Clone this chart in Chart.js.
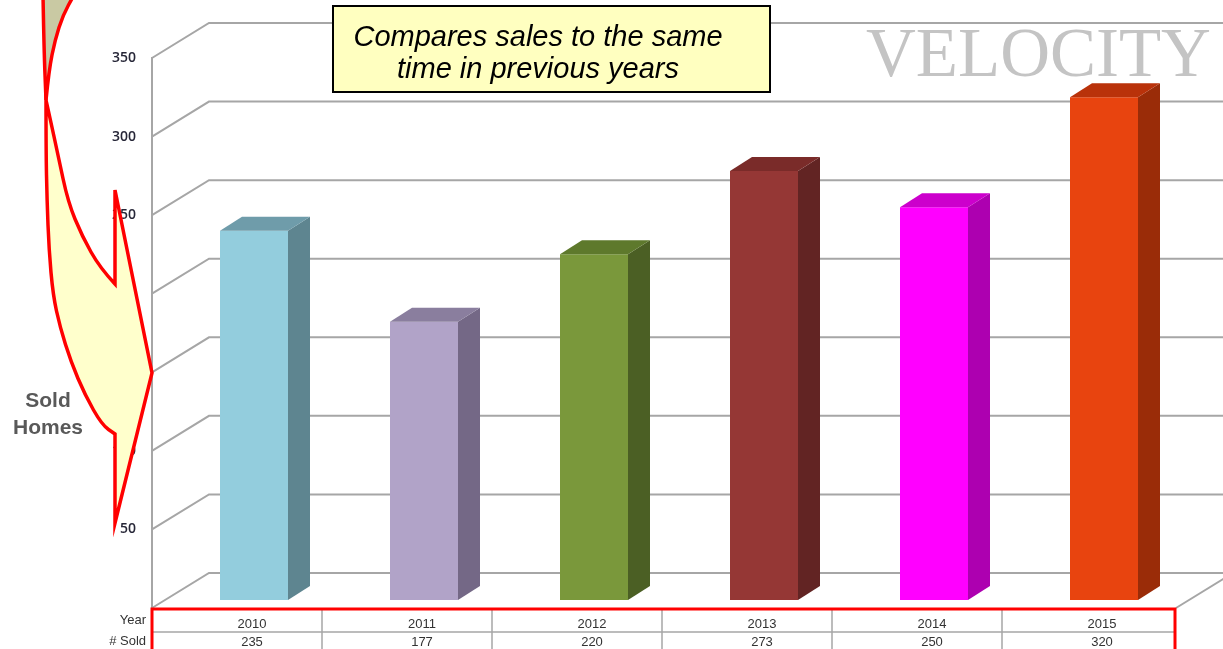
<!DOCTYPE html>
<html>
<head>
<meta charset="utf-8">
<script src="https://cdn.jsdelivr.net/npm/chart.js@4/dist/chart.umd.min.js"></script>
<style>
  html, body { margin: 0; padding: 0; background: #fff; }
  #wrap { width: 1223px; height: 649px; position: relative; overflow: hidden; }
</style>
</head>
<body>
<div id="wrap"><canvas id="velocityChart" width="1223" height="649"></canvas></div>
<script>
// data
const years = ['2010', '2011', '2012', '2013', '2014', '2015'];
const soldHomes = [235, 177, 220, 273, 250, 320];
const yTickValues = [0, 50, 100, 150, 200, 250, 300, 350];

const frontColors = ['#93cddd', '#b1a3c8', '#7a983b', '#953735', '#ff00ff', '#e8440f'];
const sideColors = ['#5e8590', '#746886', '#4b5f24', '#622423', '#ad00b0', '#9a2c08'];
const topColors = ['#6f9caa', '#8a7e9e', '#5e792c', '#7a2b29', '#cc00cc', '#b9320a'];

// depth of the floor / walls and of the bars themselves
const WALL_DX = 57, WALL_DY = -35;
const BAR_DX = 22, BAR_DY = -14;
const BAR_SHIFT_X = 17, BAR_SHIFT_Y = -8;

const wallPlugin = {
    id: 'wall3d',
    beforeDatasetsDraw(chart) {
        const ctx = chart.ctx;
        const y = chart.scales.y;
        const area = chart.chartArea;
        ctx.save();
        ctx.strokeStyle = '#a6a6a6';
        ctx.lineWidth = 2;
        y.ticks.forEach(t => {
            const py = y.getPixelForValue(t.value);
            ctx.beginPath();
            ctx.moveTo(area.left, py);
            ctx.lineTo(area.left + WALL_DX, py + WALL_DY);
            ctx.lineTo(area.right + WALL_DX, py + WALL_DY);
            ctx.stroke();
        });
        // floor right edge
        ctx.beginPath();
        ctx.moveTo(area.right + 4, area.bottom);
        ctx.lineTo(area.right + 4 + WALL_DX, area.bottom + WALL_DY);
        ctx.stroke();
        ctx.restore();

        // bars sit a little way into the depth
        ctx.save();
        ctx.translate(BAR_SHIFT_X, BAR_SHIFT_Y);
    },
    afterDatasetsDraw(chart) {
        const ctx = chart.ctx;
        const meta = chart.getDatasetMeta(0);
        meta.data.forEach((bar, i) => {
            const l = bar.x - bar.width / 2;
            const r = bar.x + bar.width / 2;
            const top = bar.y, base = bar.base;
            ctx.fillStyle = sideColors[i];
            ctx.beginPath();
            ctx.moveTo(r, top);
            ctx.lineTo(r + BAR_DX, top + BAR_DY);
            ctx.lineTo(r + BAR_DX, base + BAR_DY);
            ctx.lineTo(r, base);
            ctx.closePath();
            ctx.fill();
            ctx.fillStyle = topColors[i];
            ctx.beginPath();
            ctx.moveTo(l, top);
            ctx.lineTo(l + BAR_DX, top + BAR_DY);
            ctx.lineTo(r + BAR_DX, top + BAR_DY);
            ctx.lineTo(r, top);
            ctx.closePath();
            ctx.fill();
        });
        ctx.restore();
    }
};

function smoothThrough(ctx, pts) {
    for (let i = 1; i < pts.length - 1; i++) {
        const mx = (pts[i][0] + pts[i + 1][0]) / 2;
        const my = (pts[i][1] + pts[i + 1][1]) / 2;
        ctx.quadraticCurveTo(pts[i][0], pts[i][1], mx, my);
    }
    const last = pts[pts.length - 1];
    ctx.lineTo(last[0], last[1]);
}

const overlayPlugin = {
    id: 'overlay',
    afterDraw(chart) {
        const ctx = chart.ctx;
        const x = chart.scales.x;
        const area = chart.chartArea;

        // data table under the floor
        const tLeft = area.left, tRight = area.right + 3, tTop = 609;
        ctx.save();
        ctx.strokeStyle = '#a6a6a6';
        ctx.lineWidth = 1.5;
        ctx.beginPath();
        ctx.moveTo(tLeft, 632);
        ctx.lineTo(tRight, 632);
        for (let i = 0; i < years.length - 1; i++) {
            const bx = (x.getPixelForValue(i) + x.getPixelForValue(i + 1)) / 2;
            ctx.moveTo(bx, tTop);
            ctx.lineTo(bx, 660);
        }
        ctx.stroke();
        ctx.strokeStyle = '#ff0000';
        ctx.lineWidth = 3;
        ctx.strokeRect(tLeft, tTop, tRight - tLeft, 60);

        ctx.fillStyle = '#333333';
        ctx.font = "13px 'Liberation Sans'";
        ctx.textBaseline = 'middle';
        ctx.textAlign = 'right';
        ctx.fillText('Year', 146, 620);
        ctx.fillText('# Sold', 146, 641);
        ctx.textAlign = 'center';
        years.forEach((yr, i) => {
            const cx = x.getPixelForValue(i) + 15;
            ctx.fillText(yr, cx, 624);
            ctx.fillText(String(soldHomes[i]), cx, 642);
        });
        ctx.restore();

        // note box
        ctx.save();
        ctx.fillStyle = '#ffffc0';
        ctx.fillRect(333, 6, 437, 86);
        ctx.strokeStyle = '#000';
        ctx.lineWidth = 2;
        ctx.strokeRect(333, 6, 437, 86);
        ctx.fillStyle = '#000';
        ctx.font = "italic 29px 'Liberation Sans'";
        ctx.textAlign = 'center';
        ctx.textBaseline = 'middle';
        ctx.fillText('Compares sales to the same', 538, 38);
        ctx.fillText('time in previous years', 538, 70);

        ctx.fillStyle = '#c4c4c4';
        ctx.font = "69px 'Liberation Serif'";
        ctx.textAlign = 'left';
        ctx.textBaseline = 'alphabetic';
        ctx.fillText('VELOCITY', 866, 76);

        ctx.fillStyle = '#595959';
        ctx.font = "bold 21px 'Liberation Sans'";
        ctx.textAlign = 'center';
        ctx.textBaseline = 'middle';
        ctx.fillText('Sold', 48, 401);
        ctx.fillText('Homes', 48, 428);
        ctx.restore();

        // curved arrow callout
        ctx.save();
        ctx.lineWidth = 3.5;
        ctx.strokeStyle = '#ff0000';
        ctx.lineJoin = 'miter';
        ctx.fillStyle = '#c9c9a3';
        ctx.beginPath();
        ctx.moveTo(43, -5);
        smoothThrough(ctx, [[43, -5], [44, 50], [46, 100]]);
        smoothThrough(ctx, [[46, 100], [49, 70], [55, 40], [63, 15], [74, -5]]);
        ctx.closePath();
        ctx.fill();
        ctx.stroke();

        ctx.fillStyle = '#ffffcc';
        ctx.beginPath();
        ctx.moveTo(46, 100);
        smoothThrough(ctx, [[46, 100], [46, 150], [47, 200], [49, 250], [53, 295], [60, 327], [71, 362], [85, 395], [102, 425], [115, 434]]);
        ctx.lineTo(115, 523);
        ctx.lineTo(152, 373);
        ctx.lineTo(115, 190);
        ctx.lineTo(115, 284);
        smoothThrough(ctx, [[115, 284], [100, 268], [82, 236], [68, 202], [58, 155], [50, 118], [46, 100]]);
        ctx.closePath();
        ctx.fill();
        ctx.stroke();
        ctx.restore();
    }
};

new Chart(document.getElementById('velocityChart'), {
    type: 'bar',
    data: {
        labels: years,
        datasets: [{
            data: soldHomes,
            backgroundColor: frontColors,
            borderWidth: 0,
            categoryPercentage: 1,
            barPercentage: 0.4,
            clip: false
        }]
    },
    options: {
        responsive: false,
        animation: false,
        layout: { padding: { top: 58, bottom: 41, right: 51, left: 0 } },
        plugins: { legend: { display: false }, tooltip: { enabled: false } },
        scales: {
            x: { display: false },
            y: {
                min: 0,
                max: 350,
                afterFit(scale) { scale.width = 152; },
                afterBuildTicks(scale) { scale.ticks = yTickValues.map(v => ({ value: v })); },
                ticks: {
                    padding: 16,
                    color: '#262637',
                    font: { family: 'Open Sans', size: 14, weight: '600' },
                    callback: v => (v === 0 ? '' : v)
                },
                grid: { display: false, drawTicks: false },
                border: { display: true, color: '#a6a6a6', width: 2 }
            }
        }
    },
    plugins: [wallPlugin, overlayPlugin]
});
</script>
</body>
</html>
